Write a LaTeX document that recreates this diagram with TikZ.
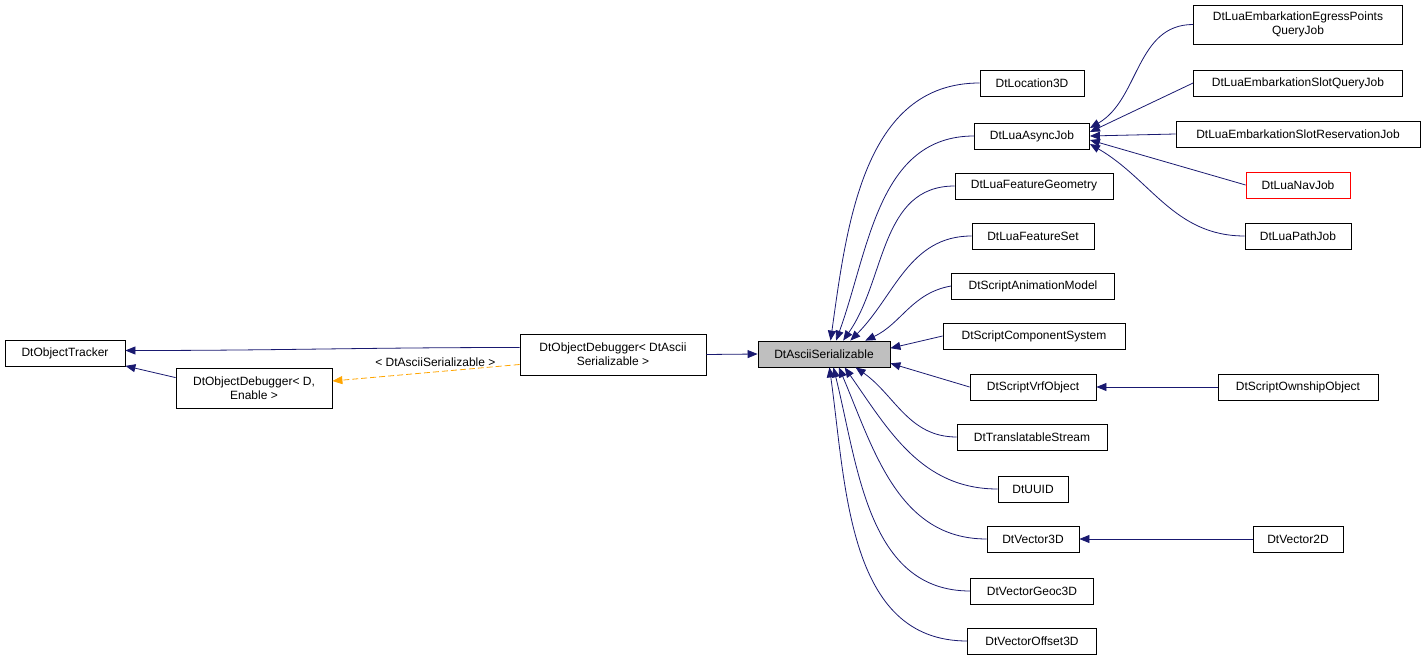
\documentclass[tikz,border=0pt]{standalone}
\usepackage{fontspec}
\setmainfont{Liberation Sans}
\usetikzlibrary{arrows.meta}
\definecolor{navy}{HTML}{191970}
\definecolor{dashorange}{HTML}{FFA500}
\tikzset{
  cls/.style = {draw=black, fill=white, align=center, inner sep=0pt,
    font=\fontsize{12}{14}\selectfont, minimum height=26pt, line width=0.8pt},
  edge/.style = {draw=navy, line width=0.8pt, -{Triangle[length=10pt,width=8pt]}},
  tedge/.style = {draw=dashorange, line width=0.8pt, dash pattern=on 6pt off 3pt, -{Triangle[length=10pt,width=8pt]}},
}
\begin{document}
\begin{tikzpicture}[x=1pt,y=-1pt]
  \path[use as bounding box] (0,0) rectangle (1427,660);
  % left part
  \node[cls, minimum width=120pt] (tracker) at (65,353.5) {DtObjectTracker};
  \node[cls, minimum width=156pt, minimum height=40pt] (dbgde) at (254,388) {DtObjectDebugger< D,\\ Enable >};
  \node[cls, minimum width=186pt, minimum height=41pt] (dbgas) at (613,354.5) {DtObjectDebugger< DtAscii\\ Serializable >};
  \node[cls, minimum width=132pt, fill=black!25] (asc) at (824,354) {DtAsciiSerializable};
  % direct children
  \node[cls, minimum width=104pt] (loc) at (1032,83) {DtLocation3D};
  \node[cls, minimum width=115pt] (async) at (1032,136) {DtLuaAsyncJob};
  \node[cls, minimum width=158pt] (geom) at (1034,186) {DtLuaFeatureGeometry};
  \node[cls, minimum width=122pt] (fset) at (1033,236) {DtLuaFeatureSet};
  \node[cls, minimum width=163pt] (anim) at (1033,286) {DtScriptAnimationModel};
  \node[cls, minimum width=182pt] (comp) at (1034,336) {DtScriptComponentSystem};
  \node[cls, minimum width=126pt] (vrf) at (1033,387) {DtScriptVrfObject};
  \node[cls, minimum width=150pt] (trans) at (1032,437) {DtTranslatableStream};
  \node[cls, minimum width=70pt] (uuid) at (1033,489) {DtUUID};
  \node[cls, minimum width=92pt] (vec3) at (1033,539) {DtVector3D};
  \node[cls, minimum width=123pt] (geoc) at (1032,591) {DtVectorGeoc3D};
  \node[cls, minimum width=129pt] (offs) at (1032,641) {DtVectorOffset3D};
  % grandchildren
  \node[cls, minimum width=209pt, minimum height=39pt] (egress) at (1298,24.5) {DtLuaEmbarkationEgressPoints\\ QueryJob};
  \node[cls, minimum width=209pt] (slotq) at (1298,83) {DtLuaEmbarkationSlotQueryJob};
  \node[cls, minimum width=244pt] (slotr) at (1298,134) {DtLuaEmbarkationSlotReservationJob};
  \node[cls, minimum width=104pt, draw=red] (nav) at (1298,185) {DtLuaNavJob};
  \node[cls, minimum width=106pt] (path) at (1298,236) {DtLuaPathJob};
  \node[cls, minimum width=160pt] (own) at (1298,387) {DtScriptOwnshipObject};
  \node[cls, minimum width=90pt] (vec2) at (1298,539) {DtVector2D};

  \path[edge] ([yshift=7pt]dbgas.west) to[out=180,in=0] ([yshift=3pt]tracker.east);
  \path[edge] ([yshift=-10pt]dbgde.north west) -- ([yshift=1pt]tracker.south east);
  \path[tedge] ([yshift=-10pt]dbgas.west) -- node[pos=0.45, above=2pt, font=\fontsize{12}{14}\selectfont] {< DtAsciiSerializable >} ([yshift=7pt]dbgde.east);
  \path[edge] (dbgas.east) -- (asc.west);

  \path[edge] (loc.west) to[out=180,in=82] (asc.64);
  \path[edge] (async.west) to[out=180,in=70] (asc.48);
  \path[edge] (geom.west) to[out=180,in=55] (asc.35);
  \path[edge] (fset.west) to[out=180,in=45] (asc.27);
  \path[edge] (anim.west) to[out=190,in=25] (asc.18);
  \path[edge] (comp.west) -- (asc.5);
  \path[edge] (vrf.west) -- (asc.-8);
  \path[edge] (trans.west) to[out=180,in=-35] (asc.-23);
  \path[edge] (uuid.west) to[out=180,in=-55] (asc.-33);
  \path[edge] (vec3.west) to[out=180,in=-67] (asc.-42);
  \path[edge] (geoc.west) to[out=180,in=-76] (asc.-55);
  \path[edge] (offs.west) to[out=180,in=-82] (asc.-68);

  \path[edge] (egress.west) to[out=180,in=30] ([yshift=8pt]async.east);
  \path[edge] (slotq.west) -- ([yshift=4pt]async.east);
  \path[edge] (slotr.west) -- (async.east);
  \path[edge] (nav.west) -- ([yshift=-4pt]async.east);
  \path[edge] (path.west) to[out=180,in=-30] ([yshift=-8pt]async.east);
  \path[edge] (own.west) -- (vrf.east);
  \path[edge] (vec2.west) -- (vec3.east);
\end{tikzpicture}
\end{document}
